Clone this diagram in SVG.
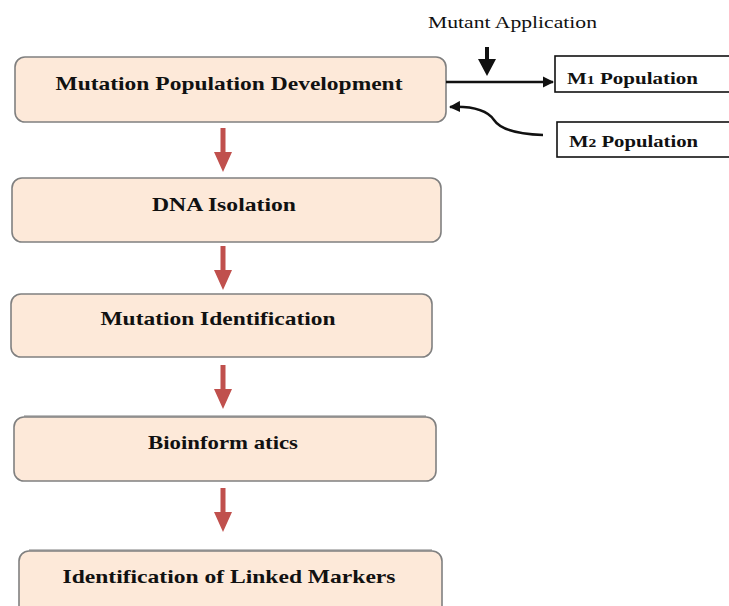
<svg xmlns="http://www.w3.org/2000/svg" width="729" height="606" viewBox="0 0 729 606">
  <style>
    .step rect { fill: #fde9d9; stroke: #808080; stroke-width: 1.6; }
    .step text { font-family: "Liberation Serif", "Times New Roman", serif; font-weight: bold; font-size: 19px; fill: #111; text-anchor: middle; }
    .pop rect { fill: #fff; stroke: #111; stroke-width: 1.6; }
    .pop text { font-family: "Liberation Serif", "Times New Roman", serif; font-weight: bold; font-size: 16px; fill: #111; }
    .label { font-family: "Liberation Serif", "Times New Roman", serif; font-size: 17px; fill: #111; }
    .flow { fill: #c0504d; }
    .wire { fill: none; stroke: #111; stroke-width: 2.5; }
  </style>
  <defs>
    <marker id="head" viewBox="0 0 10 10" refX="9" refY="5" markerWidth="4.5" markerHeight="4.5" orient="auto" markerUnits="strokeWidth">
      <path d="M0,0 L10,5 L0,10 Z" fill="#111"/>
    </marker>
    <!-- red block arrow pointing down, origin at the tip -->
    <path id="down" d="M-2.5,-44 L2.5,-44 L2.5,-20 L9,-20 L0,0 L-9,-20 L-2.5,-20 Z"/>
  </defs>

  <rect width="729" height="606" fill="#fff"/>

  <g id="mutation-population-development" class="step">
    <rect x="15" y="57" width="431" height="65" rx="10"/>
    <text x="229" y="90" textLength="347" lengthAdjust="spacingAndGlyphs">Mutation Population Development</text>
  </g>
  <g id="dna-isolation" class="step">
    <rect x="12" y="178" width="429" height="64" rx="10"/>
    <text x="224" y="211" textLength="144" lengthAdjust="spacingAndGlyphs">DNA Isolation</text>
  </g>
  <g id="mutation-identification" class="step">
    <rect x="11" y="294" width="421" height="63" rx="10"/>
    <text x="218" y="325" textLength="235" lengthAdjust="spacingAndGlyphs">Mutation Identification</text>
  </g>
  <g id="bioinformatics" class="step">
    <rect x="14" y="417" width="422" height="64" rx="10"/>
    <line x1="24" y1="416" x2="426" y2="416" stroke="#808080" stroke-width="1.2"/>
    <text x="223" y="449" textLength="150" lengthAdjust="spacingAndGlyphs">Bioinform atics</text>
  </g>
  <g id="identification-of-linked-markers" class="step">
    <rect x="19" y="551" width="423" height="80" rx="10"/>
    <line x1="29" y1="550" x2="432" y2="550" stroke="#808080" stroke-width="1.2"/>
    <text x="229" y="583" textLength="333" lengthAdjust="spacingAndGlyphs">Identification of Linked Markers</text>
  </g>

  <g id="m1-population" class="pop">
    <rect x="555" y="56" width="180" height="36"/>
    <text x="567" y="84" textLength="131" lengthAdjust="spacingAndGlyphs">M<tspan font-size="12">1</tspan> Population</text>
  </g>
  <g id="m2-population" class="pop">
    <rect x="557" y="122" width="180" height="35"/>
    <text x="569" y="147" textLength="129" lengthAdjust="spacingAndGlyphs">M<tspan font-size="12">2</tspan> Population</text>
  </g>

  <text id="mutant-application" class="label" x="428" y="28" textLength="169" lengthAdjust="spacingAndGlyphs">Mutant Application</text>

  <g id="connectors">
    <use href="#down" class="flow" x="223" y="172"/>
    <use href="#down" class="flow" x="223" y="290"/>
    <use href="#down" class="flow" x="223" y="409"/>
    <use href="#down" class="flow" x="223" y="532"/>

    <!-- mutagen applied onto the M1 branch -->
    <path d="M485,47 L489,47 L489,59 L496,59 L487,76 L478,59 L485,59 Z" fill="#111"/>
    <line class="wire" x1="446" y1="82" x2="553" y2="82" marker-end="url(#head)"/>

    <!-- M2 feeds back into the population -->
    <path class="wire" d="M543,135 C515,134 500,129 494,120 C487,110 472,106 450,107" marker-end="url(#head)"/>
  </g>
</svg>
